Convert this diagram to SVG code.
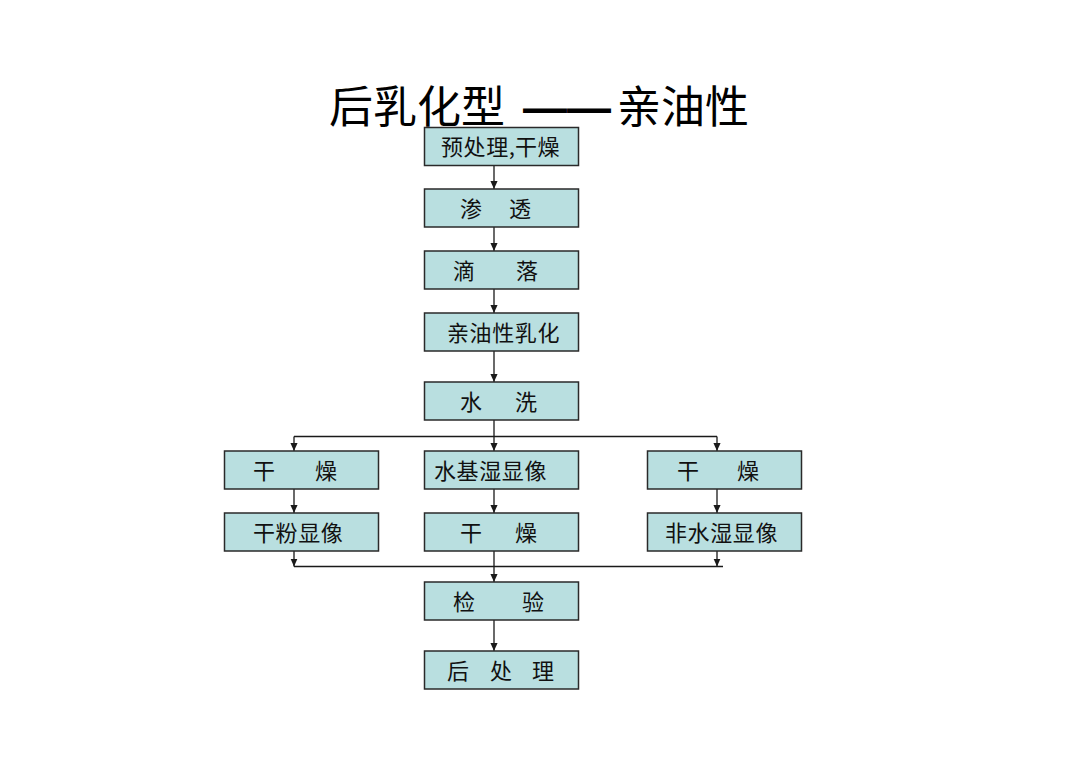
<svg xmlns="http://www.w3.org/2000/svg" width="1080" height="764" viewBox="0 0 1080 764">
<defs>
<style>
.box{fill:#b9dfe0;stroke:#2a2a2a;stroke-width:1.5}
.t{font-family:"Noto Sans CJK SC","Noto Sans",sans-serif;font-size:22px;fill:#111;letter-spacing:0.6px}
.ln{fill:none;stroke:#1a1a1a;stroke-width:1.3}
.title{font-family:"Noto Sans CJK SC","Noto Sans",sans-serif;font-size:44px;fill:#000}
</style>
<marker id="ah" markerWidth="8" markerHeight="9" refX="4" refY="9" orient="auto" markerUnits="userSpaceOnUse" viewBox="0 0 8 9">
<path d="M0,0 L8,0 L4,9 Z" fill="#1a1a1a" transform="rotate(-90 4 4.5) translate(-0.25 0)"/>
</marker>
<marker id="a" markerWidth="8" markerHeight="9" refX="9" refY="4" orient="auto" markerUnits="userSpaceOnUse" viewBox="0 0 9 8">
<path d="M0,0 L9,4 L0,8 Z" fill="#1a1a1a"/>
</marker>
</defs>
<rect width="1080" height="764" fill="#ffffff"/>
<g id="title">
<text class="title" x="329" y="123">后乳化型 <tspan x="523" font-family="Liberation Sans,sans-serif" font-weight="bold">——</tspan><tspan x="617">亲油性</tspan></text>
</g>
<g id="connectors">
<path class="ln" d="M494,166 V189" marker-end="url(#a)"/>
<path class="ln" d="M494,227 V251" marker-end="url(#a)"/>
<path class="ln" d="M494,289 V313" marker-end="url(#a)"/>
<path class="ln" d="M494,351 V382" marker-end="url(#a)"/>
<path class="ln" d="M494,420 V436.5 M294,436.5 H717"/>
<path class="ln" d="M294,436.5 V451" marker-end="url(#a)"/>
<path class="ln" d="M494,436.5 V451" marker-end="url(#a)"/>
<path class="ln" d="M717,436.5 V451" marker-end="url(#a)"/>
<path class="ln" d="M294,489 V513" marker-end="url(#a)"/>
<path class="ln" d="M494,489 V513" marker-end="url(#a)"/>
<path class="ln" d="M717,489 V513" marker-end="url(#a)"/>
<path class="ln" d="M294,551 V566.5" marker-end="url(#a)"/>
<path class="ln" d="M717,551 V566.5" marker-end="url(#a)"/>
<path class="ln" d="M294,566.5 H723"/>
<path class="ln" d="M494,551 V582" marker-end="url(#a)"/>
<path class="ln" d="M494,620 V651" marker-end="url(#a)"/>
</g>
<g id="n1"><rect class="box" x="424.5" y="127.5" width="154" height="38"/><text class="t" x="441" y="155">预处理,<tspan x="515">干燥</tspan></text></g>
<g id="n2"><rect class="box" x="424.5" y="189" width="154" height="38"/><text class="t" x="460" y="216.5">渗<tspan x="509">透</tspan></text></g>
<g id="n3"><rect class="box" x="424.5" y="251" width="154" height="38"/><text class="t" x="453" y="278.5">滴<tspan x="516">落</tspan></text></g>
<g id="n4"><rect class="box" x="424.5" y="313" width="154" height="38"/><text class="t" x="447" y="340.5">亲油性乳化</text></g>
<g id="n5"><rect class="box" x="424.5" y="382" width="154" height="38"/><text class="t" x="460" y="409.5">水<tspan x="515">洗</tspan></text></g>
<g id="n6"><rect class="box" x="224.5" y="451" width="154" height="38"/><text class="t" x="253" y="478.5">干<tspan x="315">燥</tspan></text></g>
<g id="n7"><rect class="box" x="424.5" y="451" width="154" height="38"/><text class="t" x="434" y="478.5">水基湿显像</text></g>
<g id="n8"><rect class="box" x="647.5" y="451" width="154" height="38"/><text class="t" x="677" y="478.5">干<tspan x="737">燥</tspan></text></g>
<g id="n9"><rect class="box" x="224.5" y="513" width="154" height="38"/><text class="t" x="253" y="540.5">干粉显像</text></g>
<g id="n10"><rect class="box" x="424.5" y="513" width="154" height="38"/><text class="t" x="460" y="540.5">干<tspan x="515">燥</tspan></text></g>
<g id="n11"><rect class="box" x="647.5" y="513" width="154" height="38"/><text class="t" x="665" y="540.5">非水湿显像</text></g>
<g id="n12"><rect class="box" x="424.5" y="582" width="154" height="38"/><text class="t" x="453" y="609.5">检<tspan x="522">验</tspan></text></g>
<g id="n13"><rect class="box" x="424.5" y="651" width="154" height="38"/><text class="t" x="447" y="678.5">后<tspan x="490">处</tspan><tspan x="532">理</tspan></text></g>
</svg>
